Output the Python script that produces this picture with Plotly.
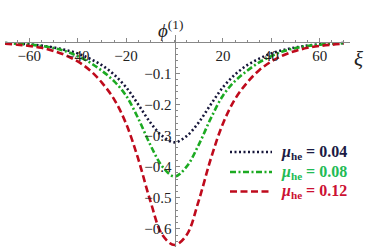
import plotly.graph_objects as go

xi = [-70, -65, -60, -55, -50, -45, -40, -35, -30, -25, -20, -15, -10, -5, 0,
      5, 10, 15, 20, 25, 30, 35, 40, 45, 50, 55, 60, 65, 70]

phi_004 = [-0.003, -0.004, -0.007, -0.011, -0.017, -0.025, -0.036, -0.053, -0.074, -0.104,
           -0.145, -0.200, -0.258, -0.302, -0.322,
           -0.302, -0.258, -0.200, -0.145, -0.104, -0.074, -0.053, -0.036, -0.025,
           -0.017, -0.011, -0.007, -0.004, -0.003]
phi_008 = [-0.003, -0.005, -0.008, -0.012, -0.019, -0.029, -0.045, -0.065, -0.092, -0.125,
           -0.172, -0.245, -0.330, -0.400, -0.432,
           -0.400, -0.330, -0.245, -0.172, -0.125, -0.092, -0.065, -0.045, -0.029,
           -0.019, -0.012, -0.008, -0.005, -0.003]
phi_012 = [-0.005, -0.008, -0.012, -0.018, -0.028, -0.042, -0.062, -0.090, -0.130, -0.183,
           -0.262, -0.375, -0.510, -0.620, -0.652,
           -0.620, -0.510, -0.375, -0.262, -0.183, -0.130, -0.090, -0.062, -0.042,
           -0.028, -0.018, -0.012, -0.008, -0.005]

labels = ["0.04", "0.08", "0.12"]
line_colors = ["#16163a", "#1caa22", "#bf0a1c"]
text_colors = ["#1b1b44", "#22bb55", "#cc1133"]
dashes = ["2px,2.5px", "6px,2.5px,2px,2.5px", "7px,3.5px"]
series = [phi_004, phi_008, phi_012]

xtick_vals = [-60, -40, -20, 20, 40, 60]
ytick_vals = [-0.6, -0.5, -0.4, -0.3, -0.2, -0.1]
ytick_text = ["\u22120.6", "\u22120.5", "\u22120.4", "\u22120.3", "\u22120.2", "\u22120.1"]
xtick_text = ["\u221260", "\u221240", "\u221220", "20", "40", "60"]

W, H = 371, 252
serif = "Liberation Serif"

fig = go.Figure()
for vals, lab, lc, d in zip(series, labels, line_colors, dashes):
    fig.add_trace(go.Scatter(
        x=xi, y=vals, mode="lines", line_shape="spline",
        line=dict(color=lc, width=2.6, dash=d),
        name="\u03bc_he = " + lab, showlegend=False,
        cliponaxis=False,
    ))

# pixel geometry
x0_px, px_per_x = 174.5, 2.42
y0_px, px_per_y = 42.2, 311.0
xl_px, xr_px = 5.0, 350.0
yt_px, yb_px = 35.0, 247.0

xr = [(xl_px - x0_px) / px_per_x, (xr_px - x0_px) / px_per_x]
yr = [-(yb_px - y0_px) / px_per_y, -(yt_px - y0_px) / px_per_y]

# legend (drawn as key lines + labels)
rows_px = [152.0, 172.0, 191.5]
shapes = []
annotations = []
for row, lab, lc, tc, d in zip(rows_px, labels, line_colors, text_colors, dashes):
    shapes.append(dict(type="line", xref="paper", yref="paper",
                       x0=230 / W, x1=272 / W, y0=1 - row / H, y1=1 - row / H,
                       line=dict(color=lc, width=2.6, dash=d)))
    annotations.append(dict(
        text=f"<b><i>\u03bc</i><sub>he</sub> = {lab}</b>",
        x=279 / W, y=1 - row / H, xref="paper", yref="paper",
        xanchor="left", yanchor="middle", showarrow=False,
        font=dict(family=serif, size=16, color=tc)))

annotations += [
    dict(text="<i>\u03be</i>", x=365 / W, y=1 - 45 / H, xref="paper", yref="paper",
         showarrow=False, font=dict(family=serif, size=21, color="#222222")),
    dict(text="<i>\u03d5</i><sup>(1)</sup>", x=170 / W, y=1 - 15 / H, xref="paper", yref="paper",
         showarrow=False, font=dict(family=serif, size=19, color="#222222")),
]

fig.update_layout(
    width=W, height=H,
    margin=dict(l=0, r=0, t=0, b=0),
    paper_bgcolor="white", plot_bgcolor="rgba(0,0,0,0)",
    font=dict(family=serif, size=14, color="#222222"),
    showlegend=False,
    xaxis=dict(
        range=xr, domain=[xl_px / W, xr_px / W],
        anchor="free", position=1 - y0_px / H,
        showgrid=False, zeroline=False,
        showline=True, linecolor="#888888", linewidth=1,
        tickvals=xtick_vals, ticktext=xtick_text,
        ticks="inside", ticklen=4, tickcolor="#888888", tickwidth=1,
        minor=dict(dtick=5, tick0=0, ticks="inside", ticklen=2, tickcolor="#888888"),
        tickfont=dict(family=serif, size=15, color="#222222"),
    ),
    yaxis=dict(
        range=yr, domain=[1 - yb_px / H, 1 - yt_px / H],
        anchor="free", position=x0_px / W,
        showgrid=False, zeroline=False,
        showline=True, linecolor="#888888", linewidth=1,
        tickvals=ytick_vals, ticktext=ytick_text,
        ticks="inside", ticklen=4, tickcolor="#888888", tickwidth=1,
        minor=dict(dtick=0.02, tick0=0, ticks="inside", ticklen=2, tickcolor="#888888"),
        tickfont=dict(family=serif, size=15, color="#222222"),
    ),
    shapes=shapes,
    annotations=annotations,
)

fig.write_html("out.html", config={"displayModeBar": False},
               post_script="document.body.style.margin='0';document.body.style.padding='0';document.body.style.overflow='hidden';")
